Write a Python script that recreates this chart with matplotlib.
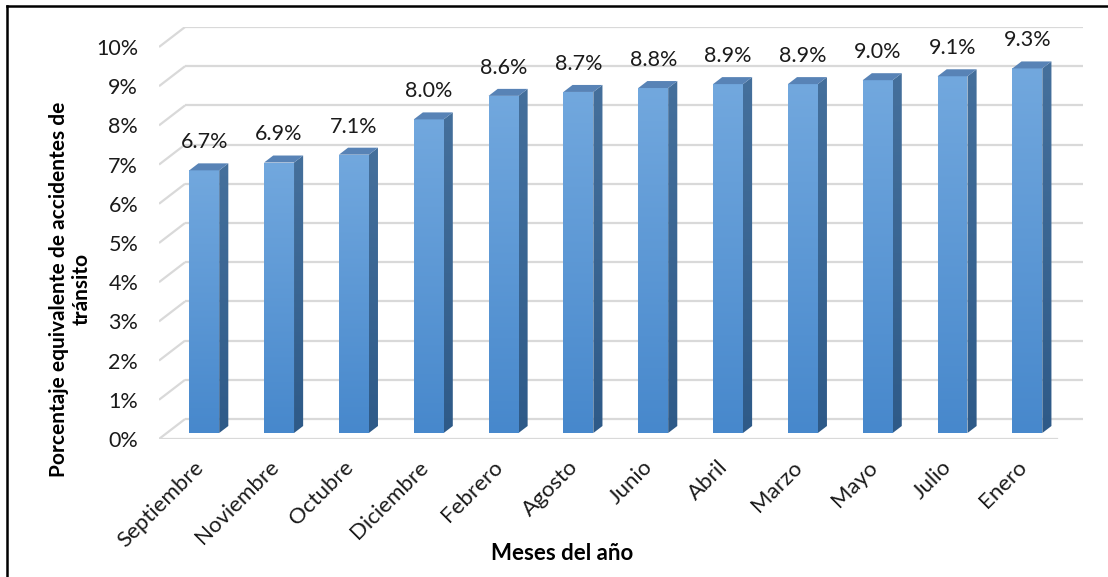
import matplotlib
matplotlib.use("Agg")
import matplotlib.pyplot as plt
import numpy as np
from matplotlib.colors import LinearSegmentedColormap
from matplotlib.patches import Polygon

plt.rcParams["font.family"] = ["Lato", "DejaVu Sans"]

meses = ["Septiembre", "Noviembre", "Octubre", "Diciembre", "Febrero", "Agosto",
         "Junio", "Abril", "Marzo", "Mayo", "Julio", "Enero"]
porcentajes = [6.7, 6.9, 7.1, 8.0, 8.6, 8.7, 8.8, 8.9, 8.9, 9.0, 9.1, 9.3]
yticks = list(range(0, 11))

# oblique "3D" projection: depth d in [0, 1] shifts right by DX and up by DY
DX, DY = 0.348, 0.51
D0, D1 = 0.30, 0.65          # bar depth (front, back)
HALF_W = 0.2                 # half of bar width

W, H = 1108, 577
fig = plt.figure(figsize=(W / 100, H / 100), dpi=100)
ax = fig.add_axes([159 / W, (H - 439) / H, (1083 - 159) / W, (439 - 27) / H])
n = len(meses)
xmin, xmax = -0.5, n - 0.5

grid_c = "#d9d9d9"
for v in yticks:
    # side wall diagonal + back wall line
    ax.plot([xmin, xmin + DX], [v, v + DY], color=grid_c, lw=1.6, zorder=1,
            solid_capstyle="butt")
    ax.plot([xmin + DX, xmax + DX], [v + DY, v + DY], color=grid_c, lw=1.6,
            zorder=1, solid_capstyle="butt")
# front edge of the floor
ax.plot([xmin, xmax], [0, 0], color=grid_c, lw=1.6, zorder=1)

front_cmap = LinearSegmentedColormap.from_list("front", ["#4788cc", "#72a8de"])
side_cmap = LinearSegmentedColormap.from_list("side", ["#2e5a88", "#45709c"])
grad = np.linspace(0, 1, 256).reshape(-1, 1)

for i, v in enumerate(porcentajes):
    x0 = i - HALF_W + D0 * DX
    x1 = i + HALF_W + D0 * DX
    yb = D0 * DY
    yt = v + D0 * DY
    ox = (D1 - D0) * DX
    oy = (D1 - D0) * DY
    # front face with vertical gradient
    face = Polygon([(x0, yb), (x1, yb), (x1, yt), (x0, yt)], closed=True,
                   facecolor="none", edgecolor="none")
    ax.add_patch(face)
    im = ax.imshow(grad, cmap=front_cmap, origin="lower", aspect="auto",
                   extent=(x0, x1, yb, yt), zorder=3)
    im.set_clip_path(face)
    # right side face
    side = Polygon([(x1, yb), (x1 + ox, yb + oy), (x1 + ox, yt + oy), (x1, yt)],
                   closed=True, facecolor="none", edgecolor="none")
    ax.add_patch(side)
    ims = ax.imshow(grad, cmap=side_cmap, origin="lower", aspect="auto",
                    extent=(x1, x1 + ox, yb, yt + oy), zorder=3)
    ims.set_clip_path(side)
    # top face
    ax.add_patch(Polygon([(x0, yt), (x1, yt), (x1 + ox, yt + oy), (x0 + ox, yt + oy)],
                         closed=True, facecolor="#5883b6", edgecolor="none", zorder=3))
    # value label
    ax.annotate(f"{v:.1f}%", xy=(i + D0 * DX, yt + oy), xytext=(0, 8),
                textcoords="offset points", ha="center", va="bottom",
                fontsize=15.5, color="#1a1a1a")

ax.set_xlim(xmin, xmax + DX)
ax.set_ylim(0, 10 + DY)
for s in ax.spines.values():
    s.set_visible(False)
ax.set_facecolor("none")

ax.set_yticks(yticks)
ax.set_yticklabels([f"{t}%" for t in yticks], fontsize=15.5, color="#1a1a1a")
ax.set_xticks(np.arange(n) - 0.04)
ax.set_xticklabels(meses, rotation=45, ha="right", rotation_mode="anchor",
                   fontsize=16, color="#1a1a1a")
ax.tick_params(axis="y", length=0, pad=15)
ax.tick_params(axis="x", length=0, pad=13)

fig.text(70 / W, 1 - 289 / H, "Porcentaje equivalente de accidentes de\ntránsito",
         rotation=90, ha="center", va="center", fontsize=15, fontweight="bold",
         multialignment="center", linespacing=1.15)
fig.text(562 / W, 1 - 554 / H, "Meses del año", ha="center", va="center",
         fontsize=16, fontweight="bold")

# left and top frame of the chart area
fig.add_artist(plt.Line2D([7 / W, 7 / W], [0, 1 - 6 / H], color="black", lw=1.8,
                          transform=fig.transFigure))
fig.add_artist(plt.Line2D([7 / W, 1], [1 - 6 / H, 1 - 6 / H], color="black", lw=1.8,
                          transform=fig.transFigure))

fig.savefig("out.png", dpi=100, facecolor="white")
